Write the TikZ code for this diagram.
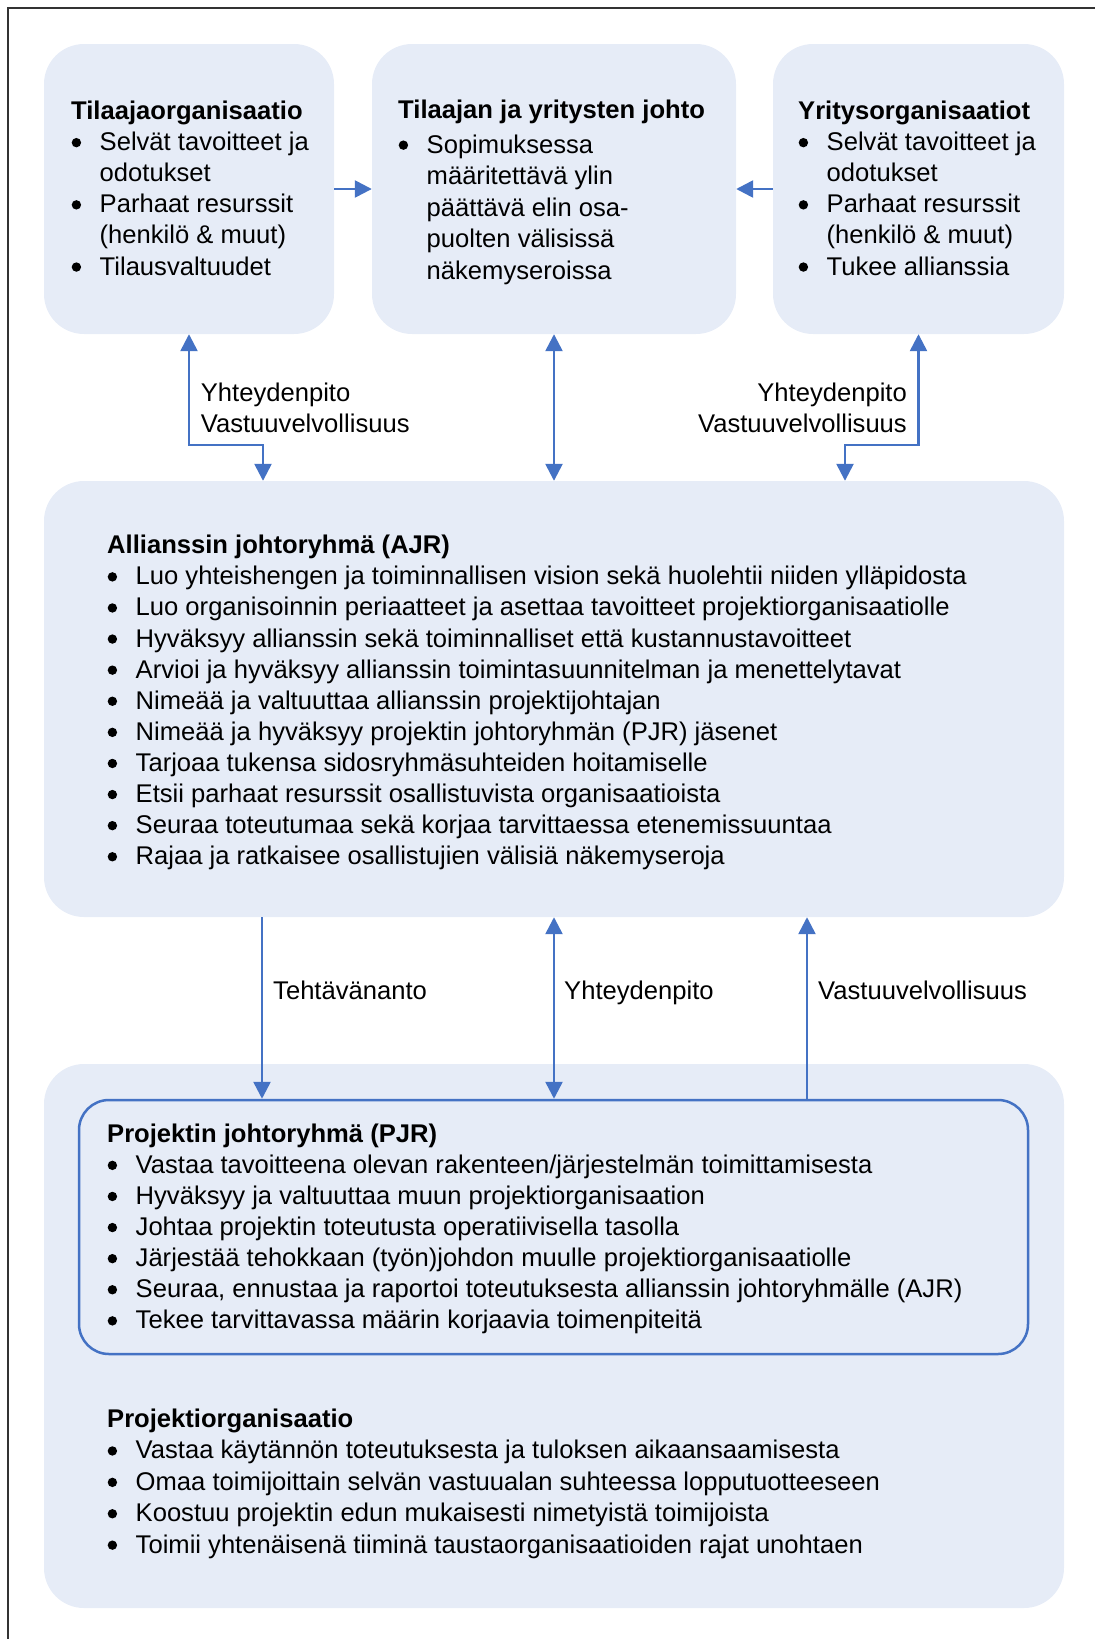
\documentclass[tikz,border=0pt]{standalone}
\usepackage{fontspec}
\setmainfont{Liberation Sans}
\usepackage{tikz}
\usetikzlibrary{arrows.meta}
\definecolor{panelblue}{HTML}{E6ECF7}
\definecolor{linkblue}{HTML}{4472C4}
\tikzstyle{panel} = [rectangle, rounded corners=40pt, fill=panelblue, draw=none]
\tikzstyle{subpanel} = [rectangle, rounded corners=30pt, fill=panelblue, draw=linkblue, line width=2.5pt]
\tikzstyle{textblock} = [align=left, anchor=north west]
\tikzstyle{linktext} = [align=left]
\tikzstyle{oneway} = [line width=2.5pt, draw=linkblue, -{Triangle[length=17pt,width=17pt]}]
\tikzstyle{twoway} = [line width=2.5pt, draw=linkblue, {Triangle[length=17pt,width=17pt]}-{Triangle[length=17pt,width=17pt]}]
\newcommand{\bul}{\makebox[28.5pt][l]{\hspace{0.5pt}\tikz[baseline=0pt]\fill (4.7pt,8pt) circle (4.7pt);}}
\newcommand{\cont}{\hspace*{28.5pt}}

\begin{document}
\begin{tikzpicture}[x=1pt, y=-1pt, every node/.style={inner sep=0pt, font=\fontsize{25.6}{31.1}\selectfont}]
        \useasboundingbox (0,0) rectangle (1095,1639);
        \draw [line width=2pt, black!80] (7.5,1639) |- (1095,7.5);

        % boxes
        \node (tilaaja) [panel, minimum width=290pt, minimum height=290pt] at (189,189) {};
        \node (johto) [panel, minimum width=364pt, minimum height=290pt] at (554,189) {};
        \node (yritys) [panel, minimum width=291pt, minimum height=290pt] at (918.5,189) {};
        \node (ajr) [panel, minimum width=1020pt, minimum height=436pt] at (554,699) {};
        \node (projorg) [panel, minimum width=1020pt, minimum height=544pt] at (554,1336) {};
        \node (pjr) [subpanel, minimum width=949pt, minimum height=254pt] at (553.5,1227) {};

        % texts
        \node (tilaajatext) [textblock] at (71,100.8) {\textbf{Tilaajaorganisaatio}\\
            \bul Selvät tavoitteet ja\\ \cont odotukset\\
            \bul Parhaat resurssit\\ \cont (henkilö \& muut)\\
            \bul Tilausvaltuudet};
        \node (johtotext) [textblock, font=\fontsize{25.6}{31.6}\selectfont] at (398,99.8) {\textbf{Tilaajan ja yritysten johto}\\[3pt]
            \bul Sopimuksessa\\ \cont määritettävä ylin\\ \cont päättävä elin osa-\\
            \cont puolten välisissä\\ \cont näkemyseroissa};
        \node (yritystext) [textblock] at (798,100.8) {\textbf{Yritysorganisaatiot}\\
            \bul Selvät tavoitteet ja\\ \cont odotukset\\
            \bul Parhaat resurssit\\ \cont (henkilö \& muut)\\
            \bul Tukee allianssia};
        \node (ajrtext) [textblock] at (107,535) {\textbf{Allianssin johtoryhmä (AJR)}\\
            \bul Luo yhteishengen ja toiminnallisen vision sekä huolehtii niiden ylläpidosta\\
            \bul Luo organisoinnin periaatteet ja asettaa tavoitteet projektiorganisaatiolle\\
            \bul Hyväksyy allianssin sekä toiminnalliset että kustannustavoitteet\\
            \bul Arvioi ja hyväksyy allianssin toimintasuunnitelman ja menettelytavat\\
            \bul Nimeää ja valtuuttaa allianssin projektijohtajan\\
            \bul Nimeää ja hyväksyy projektin johtoryhmän (PJR) jäsenet\\
            \bul Tarjoaa tukensa sidosryhmäsuhteiden hoitamiselle\\
            \bul Etsii parhaat resurssit osallistuvista organisaatioista\\
            \bul Seuraa toteutumaa sekä korjaa tarvittaessa etenemissuuntaa\\
            \bul Rajaa ja ratkaisee osallistujien välisiä näkemyseroja};
        \node (pjrtext) [textblock] at (107,1123.5) {\textbf{Projektin johtoryhmä (PJR)}\\
            \bul Vastaa tavoitteena olevan rakenteen/järjestelmän toimittamisesta\\
            \bul Hyväksyy ja valtuuttaa muun projektiorganisaation\\
            \bul Johtaa projektin toteutusta operatiivisella tasolla\\
            \bul Järjestää tehokkaan (työn)johdon muulle projektiorganisaatiolle\\
            \bul Seuraa, ennustaa ja raportoi toteutuksesta allianssin johtoryhmälle (AJR)\\
            \bul Tekee tarvittavassa määrin korjaavia toimenpiteitä};
        \node (projorgtext) [textblock, font=\fontsize{25.6}{31.4}\selectfont] at (107,1408.8) {\textbf{Projektiorganisaatio}\\
            \bul Vastaa käytännön toteutuksesta ja tuloksen aikaansaamisesta\\
            \bul Omaa toimijoittain selvän vastuualan suhteessa lopputuotteeseen\\
            \bul Koostuu projektin edun mukaisesti nimetyistä toimijoista\\
            \bul Toimii yhtenäisenä tiiminä taustaorganisaatioiden rajat unohtaen};

        % connectors
        \draw [oneway] (tilaaja.east) -- (johto.west);
        \draw [oneway] (yritys.west) -- (johto.east);
        \coordinate (kinkL) at (263,445);
        \coordinate (kinkR) at (845,445);
        \draw [twoway] (tilaaja.south) |- (kinkL) -- (kinkL |- ajr.north);
        \draw [twoway] (johto.south) -- (johto.south |- ajr.north);
        \draw [twoway] (yritys.south) |- (kinkR) -- (kinkR |- ajr.north);
        \node (linkL) [linktext, anchor=north west] at (200.7,382.6) {Yhteydenpito\\Vastuuvelvollisuus};
        \node (linkR) [linktext, align=right, anchor=north east] at (907,382.6) {Yhteydenpito\\Vastuuvelvollisuus};

        \coordinate (tA) at (262,0);
        \coordinate (tC) at (807,0);
        \draw [oneway] (tA |- ajr.south) -- (tA |- pjr.north);
        \draw [twoway] (ajr.south -| johto.south) -- (johto.south |- pjr.north);
        \draw [oneway] (tC |- pjr.north) -- (tC |- ajr.south);
        \node (task) [linktext, anchor=base west] at (273,999) {Tehtävänanto};
        \node (contact) [linktext, anchor=base west] at (564,999) {Yhteydenpito};
        \node (duty) [linktext, anchor=base west] at (818,999) {Vastuuvelvollisuus};
\end{tikzpicture}
\end{document}
